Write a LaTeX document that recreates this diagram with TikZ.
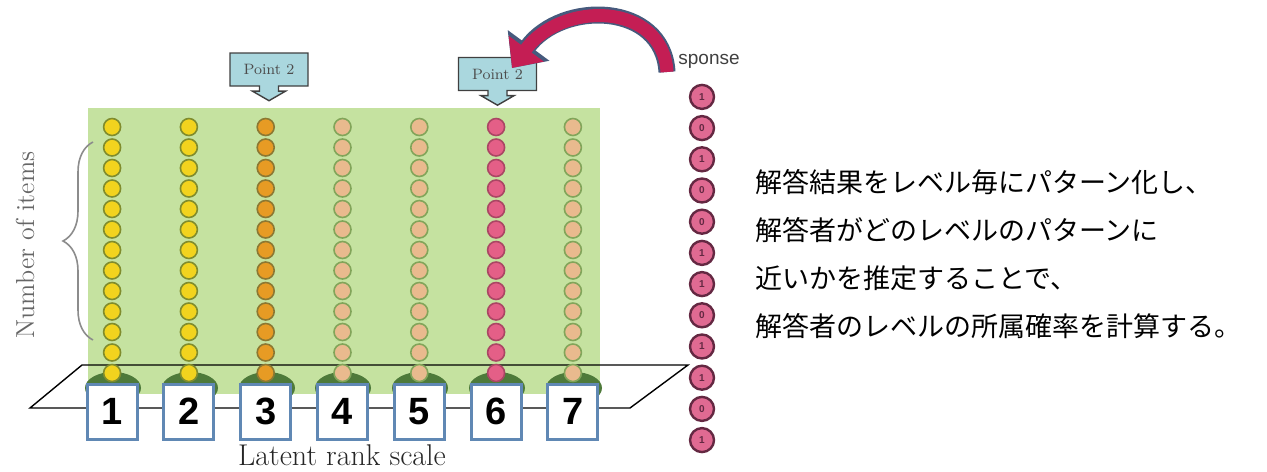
\documentclass[tikz,border=0pt]{standalone}
\usepackage{fontspec}
\setsansfont{Liberation Sans}
\newfontfamily\jpfont{Noto Sans CJK JP}
\usetikzlibrary{matrix}
\usetikzlibrary{positioning}
\usetikzlibrary{shapes.arrows}
\usetikzlibrary{arrows.meta}
\usetikzlibrary{decorations.pathreplacing}

\definecolor{panelgreen}{RGB}{197,226,160}
\definecolor{moundgreen}{RGB}{78,122,58}
\definecolor{yellowbead}{RGB}{242,211,30}
\definecolor{yellowrim}{RGB}{128,140,45}
\definecolor{orangebead}{RGB}{231,155,36}
\definecolor{orangerim}{RGB}{140,120,50}
\definecolor{tanbead}{RGB}{233,186,142}
\definecolor{tanrim}{RGB}{130,165,90}
\definecolor{pinkbead}{RGB}{228,95,135}
\definecolor{pinkrim}{RGB}{170,70,100}
\definecolor{resppink}{RGB}{224,106,146}
\definecolor{respedge}{RGB}{100,40,66}
\definecolor{rankblue}{RGB}{96,136,180}
\definecolor{calloutblue}{RGB}{170,215,222}
\definecolor{sweepred}{RGB}{196,30,84}
\definecolor{sweepedge}{RGB}{70,90,125}

\tikzset{bead/.style={circle, draw, line width=0.8pt, minimum size=8.5pt, inner sep=0pt, outer sep=0pt}}
\tikzset{beads/.style = {
   matrix of nodes, nodes in empty cells,
   nodes={bead},
   column sep=29.1pt,
   row sep=0.95pt,
   column 1/.style={nodes={fill=yellowbead, draw=yellowrim}},
   column 2/.style={nodes={fill=yellowbead, draw=yellowrim}},
   column 3/.style={nodes={fill=orangebead, draw=orangerim}},
   column 4/.style={nodes={fill=tanbead, draw=tanrim}},
   column 5/.style={nodes={fill=tanbead, draw=tanrim}},
   column 6/.style={nodes={fill=pinkbead, draw=pinkrim}},
   column 7/.style={nodes={fill=tanbead, draw=tanrim}}
}}
\tikzset{respbead/.style={circle, fill=resppink, draw=respedge, line width=1.2pt,
   minimum size=12pt, inner sep=0pt, text=respedge,
   font=\sffamily\bfseries\fontsize{5}{5}\selectfont}}
\tikzset{answers/.style = {matrix of nodes, nodes={respbead}, row sep=2.4pt}}
\tikzset{rank/.style={rectangle, draw=rankblue, line width=1.5pt, fill=white,
   minimum width=25pt, minimum height=27.5pt, inner sep=0pt,
   font=\sffamily\bfseries\fontsize{19}{19}\selectfont}}
\tikzset{callout/.style={arrow box, arrow box arrows={south:7pt from border},
   arrow box shaft width=9.5pt, arrow box head extend=3.5pt, arrow box tip angle=120,
   fill=calloutblue, draw=black!75, line width=0.7pt,
   minimum width=39pt, minimum height=16.5pt, inner sep=0pt,
   text=black!70, font=\fontsize{7.5}{8}\selectfont}}
\tikzset{mound/.style={fill=moundgreen}}

\begin{document}
\begin{tikzpicture}[x=0.5pt, y=-0.5pt]

    \useasboundingbox (0,0) rectangle (1267,471);

    % panel and ground plane
    \fill[panelgreen] (88,108) rectangle (600,394);
    \draw[line width=0.7pt] (30,408) -- (82,365) -- (688,365) -- (630,408) -- cycle;

    \fill[mound] (113,388) ellipse (14pt and 8pt);
    \fill[mound] (190,388) ellipse (14pt and 8pt);
    \fill[mound] (267,388) ellipse (14pt and 8pt);
    \fill[mound] (343,388) ellipse (14pt and 8pt);
    \fill[mound] (420,388) ellipse (14pt and 8pt);
    \fill[mound] (497,388) ellipse (14pt and 8pt);
    \fill[mound] (574,388) ellipse (14pt and 8pt);

    \matrix[beads] (m) at (342.5,250) {
      & & & & & & \\ & & & & & & \\ & & & & & & \\ & & & & & & \\
      & & & & & & \\ & & & & & & \\ & & & & & & \\ & & & & & & \\
      & & & & & & \\ & & & & & & \\ & & & & & & \\ & & & & & & \\
      & & & & & & \\
    };

    \node[rank, below=0.5pt of m-13-1] (rank1) {1};
    \node[rank, below=0.5pt of m-13-2] (rank2) {2};
    \node[rank, below=0.5pt of m-13-3] (rank3) {3};
    \node[rank, below=0.5pt of m-13-4] (rank4) {4};
    \node[rank, below=0.5pt of m-13-5] (rank5) {5};
    \node[rank, below=0.5pt of m-13-6] (rank6) {6};
    \node[rank, below=0.5pt of m-13-7] (rank7) {7};

    \node[font=\fontsize{15}{15}\selectfont, text=black!85] (scale) at (342,455) {Latent rank scale};

    \node[rotate=90, text=black!60, font=\fontsize{13}{13}\selectfont] (items) at (25,245) {Number of items};
    \draw[black!45, line width=0.8pt, decorate, decoration={brace, amplitude=15pt}] (93,340) -- (93,142);

    % response pattern
    \matrix[answers] (resp) at (702,268.5) {
      1\\ 0\\ 1\\ 0\\ 0\\ 1\\ 1\\ 0\\ 1\\ 1\\ 0\\ 1\\
    };
    \node[font=\sffamily\fontsize{9.5}{10}\selectfont, text=black!75] (resphead) at (709,61) {sponse};

    \node[callout] (pt2a) at (269,69.5) {Point 2};
    \node[callout] (pt2b) at (497.5,74) {Point 2};

    \coordinate (sweepstart) at (667,72);
    \coordinate (sweepend) at (512,68);
    \draw[sweepedge, line width=8.5pt, -{Triangle[width=25pt,length=14pt]}]
      (sweepstart) .. controls +(-4,-70) and +(50,-68) .. (sweepend);
    \draw[sweepred, line width=6.5pt, -{Triangle[width=21pt,length=12pt]}]
      (sweepstart) .. controls +(-4,-70) and +(50,-68) .. (sweepend);

    \node[anchor=west, align=left, font=\jpfont\fontsize{13.5}{24}\selectfont] (note) at (748,254)
      {解答結果をレベル毎にパターン化し、\\解答者がどのレベルのパターンに\\近いかを推定することで、\\解答者のレベルの所属確率を計算する。};

  \end{tikzpicture}
\end{document}
